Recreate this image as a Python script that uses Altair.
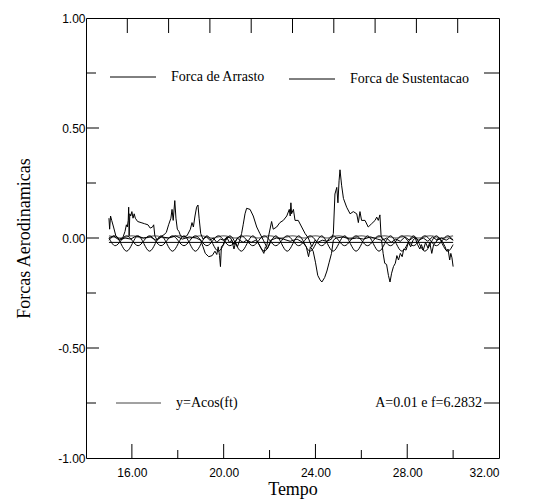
import altair as alt
import pandas as pd

# ---------------- data ----------------
drag_t = [15.00, 15.03, 15.07, 15.12, 15.20, 15.30, 15.45, 15.60, 15.70, 15.76, 15.80, 15.84, 15.86, 15.88, 15.91,
          15.95, 16.00, 16.05, 16.10, 16.15, 16.25, 16.40, 16.55, 16.70, 16.80, 16.90, 16.95, 17.00, 17.10, 17.25,
          17.40, 17.50, 17.60, 17.70, 17.75, 17.80, 17.87, 17.92, 17.98, 18.05, 18.12, 18.25, 18.40, 18.55, 18.62,
          18.68, 18.75, 18.82, 18.88, 18.93, 19.00, 19.10, 19.25, 19.40, 19.55, 19.70, 19.85, 20.00, 20.15, 20.30,
          20.45, 20.60, 20.70, 20.78, 20.85, 20.93, 21.00, 21.15, 21.29, 21.44, 21.58, 21.73, 21.87, 21.95, 22.09,
          22.16, 22.31, 22.45, 22.60, 22.75, 22.86, 22.90, 22.93, 22.96, 23.04, 23.11, 23.25, 23.40, 23.55, 23.69,
          23.84, 23.98, 24.10, 24.30, 24.50, 24.70, 24.78, 24.85, 24.93, 24.98, 25.03, 25.07, 25.14, 25.22, 25.36,
          25.51, 25.65, 25.80, 25.87, 25.94, 26.01, 26.16, 26.30, 26.45, 26.60, 26.67, 26.74, 26.81, 26.86, 26.93,
          27.10, 27.30, 27.50, 27.70, 27.90, 28.10, 28.30, 28.50, 28.70, 28.90, 29.10, 29.30, 29.50, 29.70, 29.85,
          30.00]
drag_v = [0.09, 0.04, 0.10, 0.08, 0.05, 0.01, -0.005, 0.00, 0.03, 0.06, 0.05, 0.08, 0.14, 0.01, 0.11,
          0.10, 0.12, 0.09, 0.11, 0.09, 0.075, 0.07, 0.065, 0.06, 0.045, 0.05, 0.06, 0.01, -0.01, 0.005,
          0.015, 0.025, 0.06, 0.09, 0.13, 0.08, 0.17, 0.09, 0.04, 0.03, 0.01, 0.005, 0.01, 0.04, 0.07,
          0.05, 0.10, 0.14, 0.15, 0.09, 0.02, -0.005, 0.005, -0.01, 0.00, -0.02, -0.005, -0.01, 0.005, 0.00,
          -0.03, 0.00, -0.01, 0.02, 0.06, 0.11, 0.135, 0.13, 0.10, 0.05, 0.02, -0.01, -0.04, 0.005, 0.075,
          0.04, 0.05, 0.07, 0.08, 0.10, 0.13, 0.10, 0.16, 0.11, 0.13, 0.08, 0.08, 0.05, 0.02, 0.00,
          -0.04, -0.01, -0.02, -0.01, -0.015, -0.005, 0.02, 0.20, 0.23, 0.16, 0.26, 0.31, 0.24, 0.18, 0.14,
          0.11, 0.12, 0.11, 0.07, 0.12, 0.08, 0.08, 0.05, 0.065, 0.08, 0.095, 0.08, 0.105, 0.01, -0.01,
          0.00, -0.02, -0.005, -0.015, 0.005, -0.01, 0.005, -0.01, 0.00, -0.015, 0.005, -0.01, 0.00, -0.01, 0.00,
          -0.01]

lift_t = [15.00, 15.20, 15.45, 15.70, 15.95, 16.20, 16.50, 16.80, 17.05, 17.30, 17.60, 17.90, 18.20, 18.50, 18.80,
          19.00, 19.10, 19.20, 19.35, 19.50, 19.62, 19.70, 19.76, 19.82, 19.86, 19.90, 19.98, 20.05, 20.15, 20.25,
          20.35, 20.45, 20.52, 20.60, 20.70, 20.85, 21.00, 21.20, 21.40, 21.55, 21.65, 21.75, 21.82, 21.90, 22.05,
          22.30, 22.60, 22.90, 23.20, 23.45, 23.60, 23.70, 23.78, 23.90, 24.00, 24.10, 24.20, 24.28, 24.40, 24.50,
          24.60, 24.70, 24.78, 24.90, 25.20, 25.50, 25.80, 26.10, 26.40, 26.70, 26.88, 26.95, 27.02, 27.10, 27.18,
          27.25, 27.32, 27.40, 27.48, 27.55, 27.62, 27.70, 27.78, 27.85, 27.95, 28.05, 28.15, 28.25, 28.35, 28.45,
          28.55, 28.62, 28.70, 28.80, 28.90, 28.98, 29.07, 29.15, 29.25, 29.35, 29.45, 29.55, 29.65, 29.72, 29.78,
          29.85, 29.90, 29.95, 30.00]
lift_v = [0.00, 0.01, -0.01, 0.00, -0.005, 0.01, 0.00, 0.005, -0.01, 0.005, 0.00, 0.01, -0.005, 0.005, 0.00,
          -0.01, -0.04, -0.07, -0.085, -0.08, -0.06, -0.075, -0.04, -0.08, -0.13, -0.04, -0.03, -0.01, 0.00, -0.02,
          -0.01, -0.05, -0.02, -0.04, -0.01, -0.02, -0.01, -0.02, -0.01, -0.03, -0.05, -0.07, -0.04, -0.05, -0.01,
          0.00, -0.005, -0.015, -0.005, -0.02, -0.04, -0.085, -0.04, -0.06, -0.11, -0.17, -0.19, -0.20, -0.18, -0.15,
          -0.11, -0.07, -0.01, 0.00, 0.005, -0.005, 0.00, -0.005, 0.005, -0.005, -0.01, -0.07, -0.115, -0.12, -0.17,
          -0.20, -0.16, -0.13, -0.115, -0.08, -0.10, -0.07, -0.085, -0.05, -0.055, -0.02, -0.04, -0.01, 0.00, -0.03,
          -0.05, -0.03, -0.055, -0.02, -0.045, -0.02, -0.07, -0.03, -0.02, 0.00, -0.005, -0.02, -0.04, -0.06, -0.05,
          -0.10, -0.07, -0.09, -0.13]

osc_t = [15.00, 15.27, 15.77, 16.27, 16.77, 17.27, 17.77, 18.27, 18.77, 19.27, 19.77, 20.27, 20.77, 21.27, 21.77,
         22.27, 22.77, 23.27, 23.77, 24.27, 24.77, 25.27, 25.77, 26.27, 26.77, 27.27, 27.77, 28.27, 28.77, 29.27,
         29.77, 30.00]
osc1_v = [-0.01, 0.01, -0.06, 0.01, -0.06, 0.01, -0.06, 0.01, -0.06, 0.01, -0.06, 0.01, -0.06, 0.01, -0.06,
          0.01, -0.06, 0.01, -0.06, 0.01, -0.06, 0.01, -0.06, 0.01, -0.06, 0.01, -0.06, 0.01, -0.06, 0.01,
          -0.06, -0.03]
osc2_v = [0.00, -0.035, 0.01, -0.035, 0.01, -0.035, 0.01, -0.035, 0.01, -0.035, 0.01, -0.035, 0.01, -0.035, 0.01,
          -0.035, 0.01, -0.035, 0.01, -0.035, 0.01, -0.035, 0.01, -0.035, 0.01, -0.035, 0.01, -0.035, 0.01, -0.035,
          0.01, -0.01]

cos_t = [15.0, 15.5, 16.0, 16.5, 17.0, 17.5, 18.0, 18.5, 19.0, 19.5, 20.0, 20.5, 21.0, 21.5, 22.0, 22.5,
         23.0, 23.5, 24.0, 24.5, 25.0, 25.5, 26.0, 26.5, 27.0, 27.5, 28.0, 28.5, 29.0, 29.5, 30.0]
cos_v = [0.01, 0.0, 0.01, 0.0, 0.01, 0.0, 0.01, 0.0, 0.01, 0.0, 0.01, 0.0, 0.01, 0.0, 0.01, 0.0,
         0.01, 0.0, 0.01, 0.0, 0.01, 0.0, 0.01, 0.0, 0.01, 0.0, 0.01, 0.0, 0.01, 0.0, 0.01]

mean_t = [15.0, 30.0]
mean_v = [-0.02, -0.02]

x_labels = [16, 20, 24, 28, 32]
y_labels = [-1.0, -0.5, 0.0, 0.5, 1.0]
x_ticks_major = [16, 20, 24, 28]
x_ticks_minor = [18, 22, 26, 30]
y_ticks_major = [-0.5, 0.0, 0.5]
y_ticks_minor = [-0.75, -0.25, 0.25, 0.75]
y_ticks_right = [-0.75, -0.5, -0.25, 0.0, 0.25, 0.5, 0.75]
x_ticks_top = [15.8, 17.6, 19.4, 21.2, 23.0, 24.8, 26.6, 28.4, 30.2]

# ---------------- chart ----------------
W, H = 413, 440
SERIF = "Liberation Serif"
SANS = "Liberation Sans"

xs = alt.Scale(domain=[14, 32], nice=False, zero=False)
ys = alt.Scale(domain=[-1, 1], nice=False, zero=False)

lab = "replace(format(datum.value, '.2f'), '\u2212', '-')"

x_axis = alt.Axis(values=x_labels, labelExpr=lab, ticks=False, domain=False, grid=False,
                  labelFont=SANS, labelFontSize=12, labelPadding=9, labelColor="black",
                  title="Tempo", titleFont=SERIF, titleFontSize=18, titleFontWeight="normal",
                  titleColor="black", titlePadding=2)
y_axis = alt.Axis(values=y_labels, labelExpr=lab, ticks=False, domain=False, grid=False,
                  labelFont=SANS, labelFontSize=12, labelPadding=1, labelColor="black",
                  title="Forcas Aerodinamicas", titleFont=SERIF, titleFontSize=18,
                  titleFontWeight="normal", titleColor="black", titlePadding=24)

X = lambda f: alt.X(f, scale=xs, axis=x_axis)
Y = lambda f: alt.Y(f, scale=ys, axis=y_axis)


def line_layer(t, v, color="black", width=1.0, interp="linear"):
    df = pd.DataFrame({"t": t, "v": v})
    return alt.Chart(df).mark_line(color=color, strokeWidth=width, interpolate=interp).encode(
        x=X("t:Q"), y=Y("v:Q"))


one = pd.DataFrame({"k": [0]})

layers = [
    line_layer(cos_t, cos_v, color="#8c8c8c", width=1.6, interp="monotone"),
    line_layer(mean_t, mean_v),
    line_layer(osc_t, osc2_v, interp="monotone"),
    line_layer(osc_t, osc1_v, interp="monotone"),
    line_layer(lift_t, lift_v),
    line_layer(drag_t, drag_v),
]


# inward ticks
def yticks(vals, x0, x1):
    return alt.Chart(pd.DataFrame({"v": vals})).mark_rule(color="black", strokeWidth=1).encode(
        y=Y("v:Q"), x=alt.value(x0), x2=alt.value(x1))


def xticks(vals, y0, y1):
    return alt.Chart(pd.DataFrame({"t": vals})).mark_rule(color="black", strokeWidth=1).encode(
        x=X("t:Q"), y=alt.value(y0), y2=alt.value(y1))


layers += [
    yticks(y_ticks_major, 0, 13),
    yticks(y_ticks_minor, 0, 10),
    yticks(y_ticks_right, W - 15, W),
    xticks(x_ticks_major, H, H - 14),
    xticks(x_ticks_minor, H, H - 8),
    xticks(x_ticks_top, 0, 15),
]


# in-plot legend
def seg(x0, x1, y, color="black"):
    return alt.Chart(one).mark_rule(color=color, strokeWidth=1).encode(
        x=alt.value(x0), x2=alt.value(x1), y=alt.value(y))


def txt(s, x, y, align="left"):
    return alt.Chart(one).mark_text(text=s, font=SERIF, fontSize=14, align=align,
                                    baseline="middle", color="black").encode(
        x=alt.value(x), y=alt.value(y))


layers += [
    seg(24, 70, 59),
    txt("Forca de Arrasto", 85, 59),
    seg(203, 249, 61),
    txt("Forca de Sustentacao", 264, 61),
    seg(30, 75, 385, color="#444444"),
    txt("y=Acos(ft)", 90, 385),
    txt("A=0.01 e f=6.2832", 396, 385, align="right"),
]

chart = alt.layer(*layers).properties(
    width=W, height=H,
    padding={"left": 86, "top": 18, "right": 59, "bottom": 44},
    autosize="none",
    background="white",
).configure_view(stroke="black", strokeWidth=1)

chart.save("out.html", embed_options={"renderer": "svg", "actions": False})
